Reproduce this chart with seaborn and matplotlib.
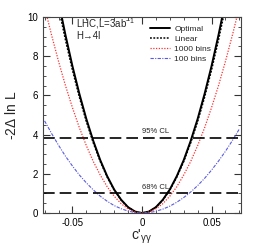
import numpy as np
import pandas as pd
import matplotlib
matplotlib.use("Agg")
import matplotlib.pyplot as plt
import seaborn as sns

# values
c_grid = [-0.07, -0.065, -0.06, -0.055, -0.05, -0.045, -0.04, -0.035, -0.03, -0.025, -0.02, -0.015, -0.01, -0.005, 0.0,
          0.005, 0.01, 0.015, 0.02, 0.025, 0.03, 0.035, 0.04, 0.045, 0.05, 0.055, 0.06, 0.065, 0.07]
optimal = [14.7, 12.7, 10.8, 9.08, 7.5, 6.08, 4.8, 3.68, 2.7, 1.88, 1.2, 0.68, 0.3, 0.075, 0.0,
           0.075, 0.3, 0.68, 1.2, 1.88, 2.7, 3.68, 4.8, 6.08, 7.5, 9.08, 10.8, 12.7, 14.7]
linear = [14.3, 12.3, 10.5, 8.83, 7.3, 5.91, 4.67, 3.58, 2.63, 1.83, 1.17, 0.66, 0.29, 0.073, 0.0,
          0.073, 0.29, 0.66, 1.17, 1.83, 2.63, 3.58, 4.67, 5.91, 7.3, 8.83, 10.5, 12.3, 14.3]
bins1000 = [10.5, 9.08, 7.74, 6.5, 5.38, 4.35, 3.44, 2.63, 1.94, 1.34, 0.86, 0.48, 0.215, 0.054, 0.0,
            0.054, 0.215, 0.48, 0.86, 1.34, 1.94, 2.63, 3.44, 4.35, 5.38, 6.5, 7.74, 9.08, 10.5]
bins100 = [4.70, 4.06, 3.46, 2.90, 2.40, 1.94, 1.54, 1.18, 0.86, 0.60, 0.38, 0.22, 0.10, 0.024, 0.0,
           0.022, 0.088, 0.20, 0.35, 0.55, 0.79, 1.07, 1.40, 1.77, 2.19, 2.65, 3.15, 3.70, 4.29]
cl_levels = [3.84, 1.0]
cl_labels = ["95% CL", "68% CL"]
x_ticks = [-0.05, 0.0, 0.05]
x_ticklabels = ["-0.05", "0", "0.05"]
y_ticks = [0, 2, 4, 6, 8, 10]

sns.set_style("ticks")
plt.rcParams['font.family'] = ['Liberation Sans', 'DejaVu Sans']
plt.rcParams['mathtext.fontset'] = 'custom'
plt.rcParams['mathtext.rm'] = 'Liberation Sans'
plt.rcParams['mathtext.it'] = 'Liberation Sans'

fig = plt.figure(figsize=(2.54, 2.46), dpi=100)
ax = fig.add_axes([0.169, 0.134, 0.780, 0.797])

df = pd.DataFrame({"c": c_grid, "Optimal": optimal, "Linear": linear,
                   "1000 bins": bins1000, "100 bins": bins100})

sns.lineplot(data=df, x="c", y="Optimal", ax=ax, color="black", lw=1.4, label="Optimal")
sns.lineplot(data=df, x="c", y="Linear", ax=ax, color="black", lw=1.1, ls=(0, (1.2, 1.0)), label="Linear")
sns.lineplot(data=df, x="c", y="1000 bins", ax=ax, color="#ff3030", lw=0.9, ls=(0, (1.0, 1.2)), label="1000 bins")
sns.lineplot(data=df, x="c", y="100 bins", ax=ax, color="#5a5ae0", lw=0.8, ls=(0, (3, 1.2, 1, 1.2)), label="100 bins")

for lev, lab in zip(cl_levels, cl_labels):
    ax.axhline(lev, color="black", lw=1.2, ls=(0, (7, 3)))
    ax.text(0.0, lev + 0.12, lab, fontsize=5.5, ha="left", va="bottom")

ax.set_xlim(-0.0712, 0.0712)
ax.set_ylim(0, 10)
ax.set_xticks(x_ticks)
ax.set_xticklabels(x_ticklabels)
ax.set_yticks(y_ticks)
ax.set_xticks(np.arange(-0.07, 0.0701, 0.01), minor=True)
ax.set_yticks(np.arange(0, 10.01, 0.5), minor=True)
ax.tick_params(which="both", direction="in", top=True, right=True, labelsize=7, colors="#333333", labelcolor="black")
ax.tick_params(which="major", length=5, width=0.8)
ax.tick_params(which="minor", length=2.5, width=0.6)
for sp in ax.spines.values():
    sp.set_color("#444444")
    sp.set_linewidth(0.8)

ax.set_xlabel(r"c$'_{\gamma\gamma}$", fontsize=10, labelpad=0)
ax.set_ylabel(r"-2$\Delta$ ln L", fontsize=10, labelpad=6)

ax.text(-0.0475, 9.65, r"LHC,L=3ab$^{-1}$", fontsize=7, ha="left", va="center")
ax.text(-0.0475, 9.02, "H\u21924l", fontsize=7, ha="left", va="center")

ax.legend(loc="upper left", bbox_to_anchor=(0.525, 0.975), frameon=False, fontsize=6,
          handlelength=2.4, labelspacing=0.25, handletextpad=0.5, borderaxespad=0.0)

fig.savefig("out.png", dpi=100)
